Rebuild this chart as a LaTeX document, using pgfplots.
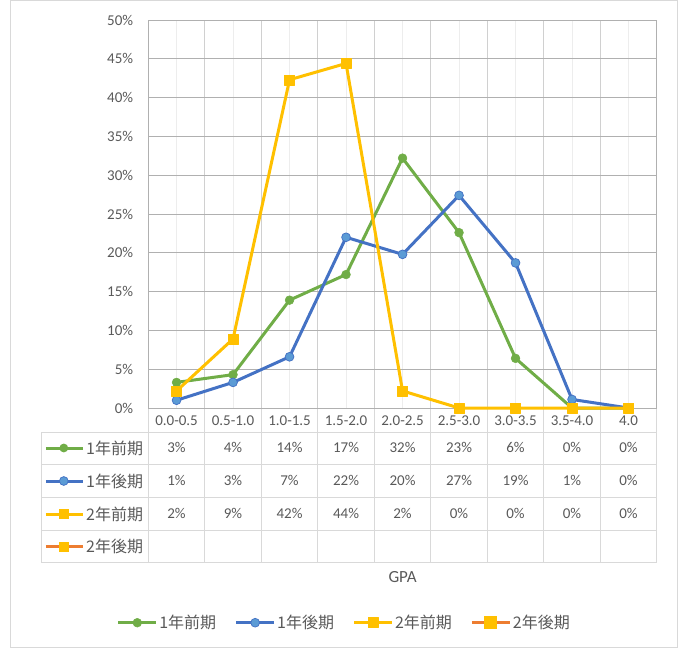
\documentclass[border=0pt]{standalone}
\usepackage{pgfplots}
\pgfplotsset{compat=1.18}
\usepackage{fontspec}
\setmainfont{Carlito}
\newfontfamily\jp{Noto Sans CJK JP}
\definecolor{txt}{HTML}{595959}
\definecolor{g1}{HTML}{70AD47}
\definecolor{b1}{HTML}{4472C4}
\definecolor{b1f}{HTML}{5B9BD5}
\definecolor{y1}{HTML}{FFC000}
\definecolor{o1}{HTML}{ED7D31}
\definecolor{hgrid}{HTML}{B0B0B0}
\definecolor{vmaj}{HTML}{D0D0D0}
\definecolor{vmin}{HTML}{EDEDED}
\definecolor{tbl}{HTML}{D9D9D9}
\definecolor{frame}{HTML}{D9D9D9}
\begin{document}
\begin{tikzpicture}[font=\fontsize{15bp}{18bp}\selectfont]
\useasboundingbox (-148.3bp,-240bp) rectangle (529.7bp,408bp);
\draw[frame, line width=1bp] (-137.3bp,-239bp) rectangle (528.7bp,407bp);
% data table grid
\foreach \yy in {-24,-56.3,-89.7,-122,-154.7}
  \draw[tbl, line width=1bp] (-106.6bp,\yy bp) -- (508.5bp,\yy bp);
\draw[tbl, line width=1bp] (-106.6bp,-24bp) -- (-106.6bp,-154.7bp);
\foreach \k in {0,...,9}
  \draw[tbl, line width=1bp] ({\k*56.5bp},0bp) -- ({\k*56.5bp},-154.7bp);
% table values
\foreach \v [count=\i from 0] in {3\%,4\%,14\%,17\%,32\%,23\%,6\%,0\%,0\%}
  \node[text=txt, anchor=base, inner sep=0pt] at ({(\i+0.5)*56.5bp},-44.9bp) {\v};
\foreach \v [count=\i from 0] in {1\%,3\%,7\%,22\%,20\%,27\%,19\%,1\%,0\%}
  \node[text=txt, anchor=base, inner sep=0pt] at ({(\i+0.5)*56.5bp},-77.9bp) {\v};
\foreach \v [count=\i from 0] in {2\%,9\%,42\%,44\%,2\%,0\%,0\%,0\%,0\%}
  \node[text=txt, anchor=base, inner sep=0pt] at ({(\i+0.5)*56.5bp},-110.9bp) {\v};
% table keys
\draw[g1, line width=3bp] (-102.3bp,-40bp) -- (-65bp,-40bp);
\fill[g1] (-84.5bp,-40bp) circle (4.4bp);
\draw[b1, line width=3bp] (-102.3bp,-73bp) -- (-65bp,-73bp);
\filldraw[fill=b1f, draw=b1, line width=0.75bp] (-84.5bp,-73bp) circle (4.4bp);
\draw[y1, line width=3bp] (-102.3bp,-106bp) -- (-65bp,-106bp);
\fill[y1] (-89.5bp,-111bp) rectangle (-79.5bp,-101bp);
\draw[o1, line width=3bp] (-102.3bp,-138.5bp) -- (-65bp,-138.5bp);
\fill[y1] (-89.5bp,-143.5bp) rectangle (-79.5bp,-133.5bp);
\node[text=txt, anchor=west, inner sep=0pt, font=\jp\fontsize{16bp}{18bp}\selectfont] at (-62.3bp,-40bp) {1年前期};
\node[text=txt, anchor=west, inner sep=0pt, font=\jp\fontsize{16bp}{18bp}\selectfont] at (-62.3bp,-73bp) {1年後期};
\node[text=txt, anchor=west, inner sep=0pt, font=\jp\fontsize{16bp}{18bp}\selectfont] at (-62.3bp,-106bp) {2年前期};
\node[text=txt, anchor=west, inner sep=0pt, font=\jp\fontsize{16bp}{18bp}\selectfont] at (-62.3bp,-138.5bp) {2年後期};
% axis title
\node[text=txt, anchor=base, inner sep=0pt, font=\fontsize{17bp}{20bp}\selectfont] at (254.25bp,-174.3bp) {GPA};
\begin{axis}[
  at={(0,0)}, anchor=south west, scale only axis,
  width=508.5bp, height=388bp,
  xmin=-0.5, xmax=8.5, ymin=0, ymax=50,
  xtick={0,...,8},
  xticklabels={0.0-0.5,0.5-1.0,1.0-1.5,1.5-2.0,2.0-2.5,2.5-3.0,3.0-3.5,3.5-4.0,4.0},
  minor xtick={0.5,1.5,...,7.5},
  ytick={0,5,...,50},
  yticklabel={\pgfmathprintnumber{\tick}\%},
  /pgf/number format/assume math mode=true,
  major tick length=0pt, minor tick length=0pt,
  xmajorgrids, xminorgrids, ymajorgrids,
  major x grid style={color=vmin, line width=1bp},
  minor x grid style={color=vmaj, line width=1bp},
  major y grid style={color=hgrid, line width=1bp},
  axis line style={color=hgrid, line width=1bp},
  tick label style={text=txt, font=\fontsize{15bp}{18bp}\selectfont},
  yticklabel style={anchor=east, inner sep=0pt, xshift=-15bp},
  xticklabel style={anchor=base, inner sep=0pt, yshift=-17bp},
  clip=false,
  legend columns=4,
  legend style={at={(0.385,-0.5534)}, anchor=center, draw=none, fill=none,
    font=\jp\fontsize{16bp}{18bp}\selectfont, text=txt,
    nodes={inner sep=1.5bp},
    /tikz/every even column/.append style={column sep=17bp}},
  legend image code/.code={\draw[mark repeat=2,mark phase=2] plot coordinates {(0bp,0bp)(19bp,0bp)(38bp,0bp)};},
]
\addplot[g1, line width=3bp, line join=round, mark=*, mark size=4.4bp,
  mark options={fill=g1, draw=g1, line width=0.5bp}]
  coordinates {(0,3.3)(1,4.3)(2,13.9)(3,17.2)(4,32.2)(5,22.6)(6,6.4)(7,0)(8,0)};
\addlegendentry{1年前期}
\addplot[b1, line width=3bp, line join=round, mark=*, mark size=4.4bp,
  mark options={fill=b1f, draw=b1, line width=0.75bp}]
  coordinates {(0,1.0)(1,3.3)(2,6.6)(3,22.0)(4,19.8)(5,27.4)(6,18.7)(7,1.1)(8,0)};
\addlegendentry{1年後期}
\addplot[y1, line width=3bp, line join=round, mark=square*, mark size=5bp,
  mark options={fill=y1, draw=y1, line width=0.5bp}]
  coordinates {(0,2.2)(1,8.9)(2,42.3)(3,44.4)(4,2.2)(5,0)(6,0)(7,0)(8,0)};
\addlegendentry{2年前期}
\addlegendimage{o1, line width=3bp, mark=square*, mark size=5bp, mark options={fill=y1, draw=y1}}
\addlegendentry{2年後期}
\end{axis}
\end{tikzpicture}
\end{document}
